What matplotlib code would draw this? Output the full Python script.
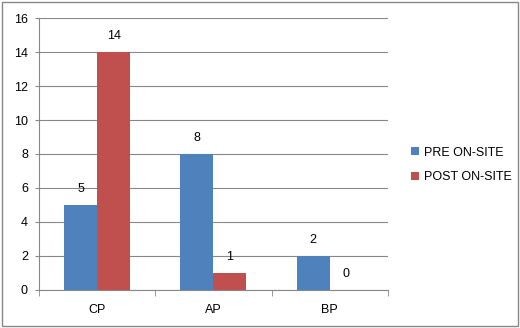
import matplotlib.pyplot as plt
import numpy as np
from matplotlib.patches import Rectangle

categories = ['CP', 'AP', 'BP']
pre_onsite = [5, 8, 2]
post_onsite = [14, 1, 0]
series_names = ['PRE ON-SITE', 'POST ON-SITE']
yticks = [0, 2, 4, 6, 8, 10, 12, 14, 16]

plt.rcParams['font.family'] = ['Liberation Sans', 'DejaVu Sans']
blue = '#4F81BD'
red = '#C0504D'
gray = '#888888'

fig = plt.figure(figsize=(5.2, 3.28), dpi=100)
ax = fig.add_axes([0.075, 0.116, 0.671, 0.829])

x = np.arange(len(categories))
w = 0.284
b1 = ax.bar(x - w / 2, pre_onsite, w, color=blue, label=series_names[0], zorder=3)
b2 = ax.bar(x + w / 2, post_onsite, w, color=red, label=series_names[1], zorder=3)

for bars in (b1, b2):
    for rect in bars:
        h = rect.get_height()
        ax.annotate(f'{h:g}', (rect.get_x() + rect.get_width() / 2, h),
                    xytext=(0, 7), textcoords='offset points',
                    ha='center', va='bottom', fontsize=9)

ax.set_xlim(-0.5, 2.5)
ax.set_ylim(0, 16)
ax.set_yticks(yticks)
ax.yaxis.grid(True, color=gray, linewidth=0.8, zorder=0)
ax.set_axisbelow(True)

ax.set_xticks(x)
ax.set_xticklabels(categories, fontsize=9)
ax.set_xticks([-0.5, 0.5, 1.5, 2.5], minor=True)
ax.tick_params(axis='x', which='major', length=0, pad=10)
ax.tick_params(axis='x', which='minor', length=4, color=gray)
ax.tick_params(axis='y', length=3, color=gray, labelsize=9, pad=5)

for s in ('top', 'right'):
    ax.spines[s].set_visible(False)
for s in ('left', 'bottom'):
    ax.spines[s].set_color(gray)
    ax.spines[s].set_linewidth(0.8)

ax.legend(loc='center left', bbox_to_anchor=(1.035, 0.46), frameon=False,
          fontsize=9, handlelength=0.6, handleheight=0.6, handletextpad=0.4,
          labelspacing=1.0)

fig.patches.append(Rectangle((0.004, 0.006), 0.992, 0.988, transform=fig.transFigure,
                             fill=False, edgecolor=gray, linewidth=1.0))

fig.savefig('out.png', dpi=100)
